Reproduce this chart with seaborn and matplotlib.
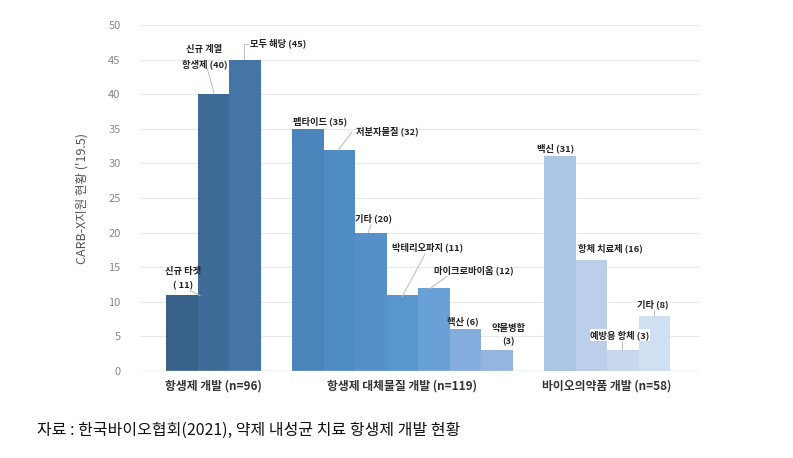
import matplotlib
matplotlib.use("Agg")
import matplotlib.pyplot as plt
import seaborn as sns
import pandas as pd

# ---- data ----
labels = ["신규 타겟", "신규 계열 항생제", "모두 해당",
          "펩타이드", "저분자물질", "기타", "박테리오파지", "마이크로바이옴", "핵산", "약물병합",
          "백신", "항체 치료제", "예방용 항체", "기타 "]
values = [11, 40, 45,
          35, 32, 20, 11, 12, 6, 3,
          31, 16, 3, 8]
slots = [0, 1, 2,
         4, 5, 6, 7, 8, 9, 10,
         12, 13, 14, 15]
colors = ["#38618a", "#3e6b98", "#4475a5",
          "#4a84bb", "#4f8bc4", "#5590c8", "#5897ce", "#6aa0d8", "#84acdc", "#93b5df",
          "#aec6e6", "#bbcfea", "#c6d7ee", "#d0dff2"]
group_names = ["항생제 개발 (n=96)", "항생제 대체물질 개발 (n=119)", "바이오의약품 개발 (n=58)"]
group_pos = [1, 7, 13.5]
yticks = [0, 5, 10, 15, 20, 25, 30, 35, 40, 45, 50]

df = pd.DataFrame({"label": labels, "value": values, "slot": slots})

sns.set_theme(style="white")
plt.rcParams["font.family"] = ["Noto Sans CJK KR", "DejaVu Sans"]

fig = plt.figure(figsize=(7.93, 4.58), dpi=100)
ax = fig.add_axes([140 / 793, (458 - 371) / 458, 560 / 793, 346 / 458])

sns.barplot(data=df, x="slot", y="value", hue="label", palette=colors,
            native_scale=True, dodge=False, width=1.0, legend=False,
            saturation=1, linewidth=0, ax=ax, zorder=3)

ax.set_xlim(-1.33, 16.45)
ax.set_ylim(0, 50)
ax.set_yticks(yticks)
ax.set_yticklabels([str(t) for t in yticks], color="#888888", fontsize=8)
ax.tick_params(axis="y", length=0, pad=14)
ax.set_xticks(group_pos)
ax.set_xticklabels(group_names, fontsize=8.5, fontweight="bold", color="#333333")
ax.tick_params(axis="x", length=0, pad=6)
ax.set_xlabel("")
ax.set_ylabel("CARB-X지원 현황 ('19.5)", fontsize=9, color="#555555",
              fontweight="light", labelpad=14)
for s in ax.spines.values():
    s.set_visible(False)
ax.grid(axis="y", color="#e9e9e9", linewidth=0.8, zorder=0)
ax.axhline(0, color="#d9d9d9", linewidth=1, zorder=4)

fs = 6.7
tk = dict(fontsize=fs, fontweight="bold", color="#222222", zorder=6)
lk = dict(color="#bbbbbb", linewidth=0.7, zorder=5)

# annotations (x in slot units, y in data units)
ax.text(0.04, 13.4, "신규 타겟\n( 11)", ha="center", va="center", linespacing=1.7, **tk)
ax.plot([0.26, 0.58], [11.6, 10.9], **lk)
ax.text(0.71, 45.4, "신규 계열\n항생제 (40)", ha="center", va="center", linespacing=1.7, **tk)
ax.plot([0.81, 1.02], [43.6, 40.2], **lk)
ax.text(2.17, 47.3, "모두 해당 (45)", ha="left", va="center", **tk)
ax.plot([1.98, 1.98, 2.1], [45.1, 47.3, 47.3], **lk)
ax.text(4.39, 36.1, "펩타이드 (35)", ha="center", va="center", **tk)
ax.text(5.53, 34.7, "저분자물질 (32)", ha="left", va="center", **tk)
ax.plot([5.40, 4.96], [34.5, 31.9], **lk)
ax.text(5.5, 22.0, "기타 (20)", ha="left", va="center", **tk)
ax.plot([6.0, 5.92], [21.1, 20.0], **lk)
ax.text(6.67, 17.8, "박테리오파지 (11)", ha="left", va="center", **tk)
ax.plot([7.72, 6.99], [16.9, 10.7], **lk)
ax.text(8.01, 14.6, "마이크로바이옴 (12)", ha="left", va="center", **tk)
ax.plot([8.42, 7.88], [13.7, 11.9], **lk)
ax.text(8.42, 7.2, "핵산 (6)", ha="left", va="center", **tk)
ax.text(10.36, 5.2, "약물병합\n(3)", ha="center", va="center", linespacing=1.7, **tk)
ax.text(11.29, 32.2, "백신 (31)", ha="left", va="center", **tk)
ax.text(12.59, 17.8, "항체 치료제 (16)", ha="left", va="center", **tk)
ax.text(12.97, 5.2, "예방용 항체 (3)", ha="left", va="center",
        bbox=dict(facecolor="white", edgecolor="none", pad=0.5), **tk)
ax.plot([13.98, 13.98], [4.3, 3.0], **lk)
ax.text(14.45, 9.7, "기타 (8)", ha="left", va="center", **tk)
ax.plot([15.0, 15.0], [8.8, 8.0], **lk)

fig.text(37 / 793, 1 - 430 / 458, "자료 : 한국바이오협회(2021), 약제 내성균 치료 항생제 개발 현황",
         ha="left", va="center", fontsize=11.5, color="#111111")

fig.savefig("out.png", dpi=100, facecolor="white")
